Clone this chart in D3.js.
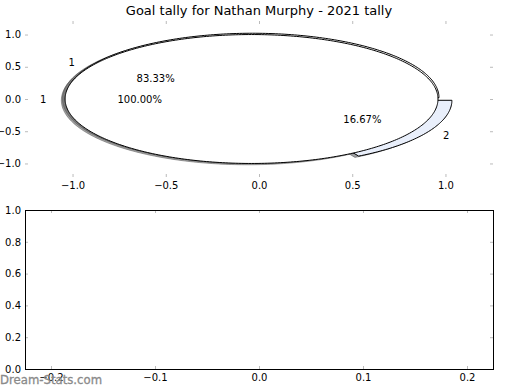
<!DOCTYPE html>
<html><head><meta charset="utf-8">
<script src="https://cdn.jsdelivr.net/npm/d3@7"></script>
<style>body{margin:0;background:#fff}svg{display:block;font-family:"DejaVu Sans",sans-serif}</style>
</head><body>
<script>
// ---- data ----
const title = "Goal tally for Nathan Murphy - 2021 tally";
const outerLabels = ["1"];
const outerValues = [1];
const innerLabels = ["1", "2"];
const innerValues = [5, 1];
const pieTicks = [-1.0, -0.5, 0.0, 0.5, 1.0];
const bottomXTicks = [-0.2, -0.1, 0.0, 0.1, 0.2];
const bottomYTicks = [0.0, 0.2, 0.4, 0.6, 0.8, 1.0];

const W = 520, H = 390;
const svg = d3.select("body").append("svg").attr("width", W).attr("height", H);
svg.append("rect").attr("width", W).attr("height", H).attr("fill", "#fff");

const fmt = d => (d < 0 ? "\u2212" : "") + Math.abs(d).toFixed(1);
const tickColor = "#bbbbbb";

// ---- top (pie) axes ----
const topBox = {l: 25, r: 493, t: 21, b: 177};
const sx = d3.scaleLinear().domain([-1.255, 1.255]).range([topBox.l, topBox.r]);
const sy = d3.scaleLinear().domain([-1.21, 1.21]).range([topBox.b, topBox.t]);

const explode = 0.04, radius = 1, labelDist = 1.1, pctDist = 0.6;
const pie = d3.pie().sort(null).startAngle(0).endAngle(2 * Math.PI);

function wedgePath(cx, cy, a0, a1, full) {
  const n = Math.max(8, Math.ceil((a1 - a0) / (2 * Math.PI) * 360));
  const pts = d3.range(n + 1).map(i => {
    const a = a0 + (a1 - a0) * i / n;
    return [sx(cx + radius * Math.cos(a)), sy(cy + radius * Math.sin(a))];
  });
  if (!full) pts.unshift([sx(cx), sy(cy)]);
  return d3.line()(pts) + "Z";
}

function buildWedges(values, labels, colors) {
  const total = d3.sum(values);
  return pie(values).map((d, i) => {
    const mid = (d.startAngle + d.endAngle) / 2;
    const cx = explode * Math.cos(mid), cy = explode * Math.sin(mid);
    return {
      cx, cy, mid, a0: d.startAngle, a1: d.endAngle,
      full: values.length === 1,
      label: labels[i], pct: (100 * values[i] / total).toFixed(2) + "%",
      color: colors[i]
    };
  });
}

const inner = buildWedges(innerValues, innerLabels, ["#ffffff", "#e9effb"]);
const outer = buildWedges(outerValues, outerLabels, ["#ffffff"]);
const wedges = inner.concat(outer);

const gp = svg.append("g");
// shadows first (below all wedges)
wedges.forEach(w => {
  const c = d3.rgb(w.color);
  gp.append("path")
    .attr("d", wedgePath(w.cx - 0.02, w.cy - 0.02, w.a0, w.a1, w.full))
    .attr("fill", d3.rgb(c.r * 0.3, c.g * 0.3, c.b * 0.3))
    .attr("fill-opacity", 0.5)
    .attr("stroke", d3.rgb(c.r * 0.3, c.g * 0.3, c.b * 0.3))
    .attr("stroke-opacity", 0.5)
    .attr("stroke-width", 1);
});
wedges.forEach(w => {
  gp.append("path")
    .attr("d", wedgePath(w.cx, w.cy, w.a0, w.a1, w.full))
    .attr("fill", w.color)
    .attr("stroke", "#000")
    .attr("stroke-width", 1)
    .attr("stroke-linejoin", "miter");
});
// texts
wedges.forEach(w => {
  const lx = w.cx + labelDist * Math.cos(w.mid), ly = w.cy + labelDist * Math.sin(w.mid);
  gp.append("text").attr("x", sx(lx)).attr("y", sy(ly)).attr("dy", "0.35em")
    .attr("text-anchor", lx > 0 ? "start" : "end")
    .attr("font-size", 10).text(w.label);
  const px = w.cx + pctDist * Math.cos(w.mid), py = w.cy + pctDist * Math.sin(w.mid);
  gp.append("text").attr("x", sx(px)).attr("y", sy(py)).attr("dy", "0.35em")
    .attr("text-anchor", "middle").attr("font-size", 10).text(w.pct);
});

function styleAxis(g, labels) {
  g.select(".domain").remove();
  g.selectAll(".tick line").attr("stroke", tickColor).attr("stroke-width", 1);
  g.selectAll(".tick text").attr("font-size", 10).attr("fill", "#000")
    .attr("font-family", "DejaVu Sans");
  if (!labels) g.selectAll(".tick text").remove();
}

svg.append("g").attr("transform", `translate(0,${topBox.b})`)
  .call(d3.axisBottom(sx).tickValues(pieTicks).tickFormat(fmt).tickSizeInner(-3).tickSizeOuter(0).tickPadding(5))
  .call(g => styleAxis(g, true));
svg.append("g").attr("transform", `translate(0,${topBox.t})`)
  .call(d3.axisTop(sx).tickValues(pieTicks).tickSizeInner(-3).tickSizeOuter(0))
  .call(g => styleAxis(g, false));
svg.append("g").attr("transform", `translate(${topBox.l},0)`)
  .call(d3.axisLeft(sy).tickValues(pieTicks).tickFormat(fmt).tickSizeInner(-3).tickSizeOuter(0).tickPadding(4))
  .call(g => styleAxis(g, true));
svg.append("g").attr("transform", `translate(${topBox.r},0)`)
  .call(d3.axisRight(sy).tickValues(pieTicks).tickSizeInner(-3).tickSizeOuter(0))
  .call(g => styleAxis(g, false));

svg.append("text").attr("x", (topBox.l + topBox.r) / 2).attr("y", 15)
  .attr("text-anchor", "middle").attr("font-size", 13).text(title);

// ---- bottom (empty) axes ----
const botBox = {l: 25, r: 493, t: 210, b: 369};
const bx = d3.scaleLinear().domain([-0.225, 0.225]).range([botBox.l, botBox.r]);
const by = d3.scaleLinear().domain([0, 1]).range([botBox.b, botBox.t]);

svg.append("g").attr("transform", `translate(0,${botBox.b})`)
  .call(d3.axisBottom(bx).tickValues(bottomXTicks).tickFormat(fmt).tickSizeInner(-3).tickSizeOuter(0).tickPadding(5))
  .call(g => styleAxis(g, true));
svg.append("g").attr("transform", `translate(0,${botBox.t})`)
  .call(d3.axisTop(bx).tickValues(bottomXTicks).tickSizeInner(-3).tickSizeOuter(0))
  .call(g => styleAxis(g, false));
svg.append("g").attr("transform", `translate(${botBox.l},0)`)
  .call(d3.axisLeft(by).tickValues(bottomYTicks).tickFormat(fmt).tickSizeInner(-3).tickSizeOuter(0).tickPadding(4))
  .call(g => styleAxis(g, true));
svg.append("g").attr("transform", `translate(${botBox.r},0)`)
  .call(d3.axisRight(by).tickValues(bottomYTicks).tickSizeInner(-3).tickSizeOuter(0))
  .call(g => styleAxis(g, false));
svg.append("rect").attr("x", botBox.l + 0.5).attr("y", botBox.t + 0.5)
  .attr("width", botBox.r - botBox.l).attr("height", botBox.b - botBox.t)
  .attr("fill", "none").attr("stroke", "#000").attr("stroke-width", 1);

// watermark
svg.append("text").attr("x", 0).attr("y", 384).attr("font-size", 11.7)
  .attr("fill", "#8a8a8a").attr("stroke", "#8a8a8a").attr("stroke-width", 0.3)
  .text("Dream-Stats.com");
</script>
</body></html>
